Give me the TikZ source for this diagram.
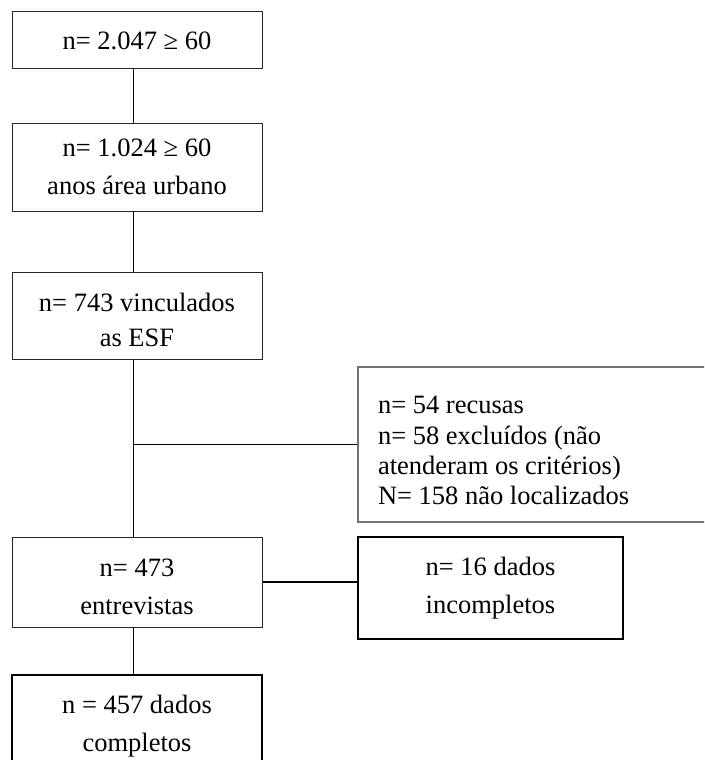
\documentclass[tikz,border=0pt]{standalone}
\usepackage{fontspec}
\setmainfont{Liberation Serif}
\usetikzlibrary{calc}

\begin{document}
\begin{tikzpicture}[x=1pt,y=-1pt,
        box/.style={draw=black!85,line width=1pt,minimum width=250pt,inner sep=0pt,align=center,font=\fontsize{26.5}{38}\selectfont},
        thickbox/.style={box,draw=black,line width=2.2pt},
        sidebox/.style={draw=black!55,line width=1.5pt,minimum width=362pt,minimum height=155pt,inner xsep=20pt,text width=322pt,align=flush left,font=\fontsize{26.5}{30.3}\selectfont},
        link/.style={line width=1.3pt}]
        \clip (0,0) rectangle (704,760);
        % main column
        \node[box,minimum height=57pt] (b1) at (137,40.5) {n= 2.047 ≥ 60};
        \node[box,minimum height=88pt] (b2) at (137,167) {n= 1.024 ≥ 60\\anos área urbano};
        \node[box,minimum height=87pt,font=\fontsize{26.5}{35}\selectfont] (b3) at (137,315.5) {\rule{0pt}{27pt}n= 743 vinculados\\as ESF};
        \node[box,minimum height=90pt] (b4) at (137,582) {\rule{0pt}{27pt}n= 473\\entrevistas};
        \node[thickbox,minimum height=90pt] (b6) at (137,720) {\rule{0pt}{30pt}n = 457 dados\\completos};
        % side boxes
        \node[sidebox] (excl) at (539,444.5) {\rule{0pt}{30pt}n= 54 recusas\\n= 58 excluídos (não\\atenderam os critérios)\\N= 158 não localizados};
        \node[thickbox,minimum width=265pt,minimum height=102pt] (b5) at (490.5,588) {n= 16 dados\\incompletos};
        % connectors
        \coordinate (trunk) at (133.5,0);
        \coordinate (jn) at (trunk |- excl.west);
        \draw[link] (b1.south -| trunk) -- (b2.north -| trunk);
        \draw[link] (b2.south -| trunk) -- (b3.north -| trunk);
        \draw[link] (b3.south -| trunk) -- (b4.north -| trunk);
        \draw[link] (b4.south -| trunk) -- (b6.north -| trunk);
        \draw[link] (jn) -- (excl.west);
        \draw[link] (b4.east) -- (b4.east -| b5.west);
\end{tikzpicture}
\end{document}
